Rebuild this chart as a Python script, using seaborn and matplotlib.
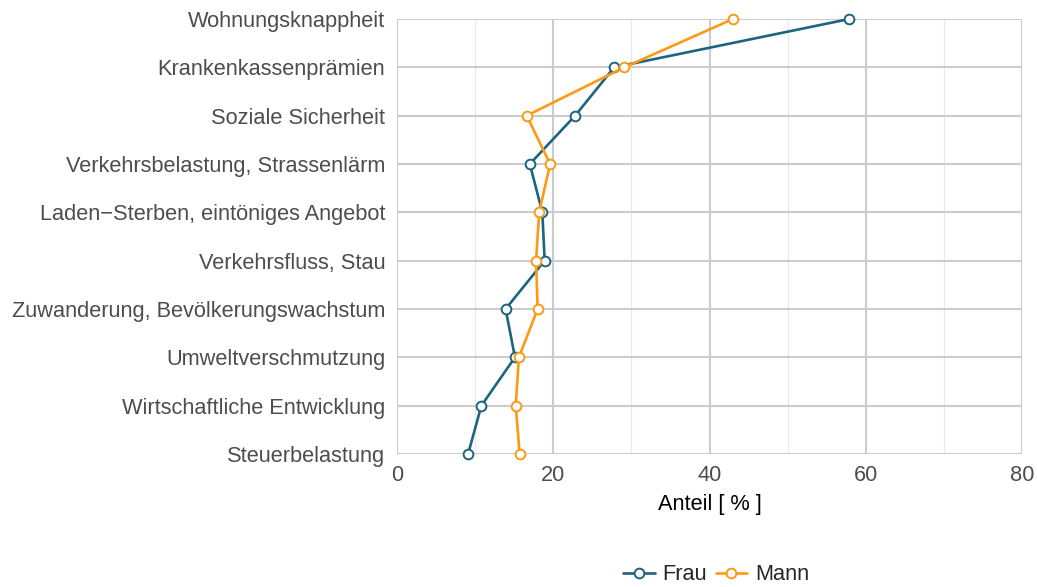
import matplotlib
matplotlib.use("Agg")
import matplotlib.pyplot as plt
import seaborn as sns
import pandas as pd
import numpy as np
from matplotlib.lines import Line2D

categories = [
    "Wohnungsknappheit",
    "Krankenkassenprämien",
    "Soziale Sicherheit",
    "Verkehrsbelastung, Strassenlärm",
    "Laden\u2212Sterben, eintöniges Angebot",
    "Verkehrsfluss, Stau",
    "Zuwanderung, Bevölkerungswachstum",
    "Umweltverschmutzung",
    "Wirtschaftliche Entwicklung",
    "Steuerbelastung",
]
frau = [57.9, 27.8, 22.8, 17.0, 18.6, 18.9, 13.9, 15.1, 10.8, 9.1]
mann = [43.0, 29.1, 16.6, 19.6, 18.2, 17.8, 18.0, 15.6, 15.2, 15.7]
groups = ["Frau", "Mann"]
colors = {"Frau": "#1b6580", "Mann": "#ff9914"}

sns.set_theme(style="white")
plt.rcParams["font.family"] = ["Liberation Sans", "DejaVu Sans"]

FS = 15.7
LW = 1.9
MS = 7
MEW = 1.4

rows = []
for i, c in enumerate(categories):
    rows.append({"cat": c, "pos": i, "Anteil": frau[i], "Geschlecht": "Frau"})
    rows.append({"cat": c, "pos": i, "Anteil": mann[i], "Geschlecht": "Mann"})
df = pd.DataFrame(rows)

fig = plt.figure(figsize=(10.37, 5.87), dpi=100)
ax = fig.add_axes([397/1037, 1 - 454/587, (1022-397)/1037, (454-19)/587])

sns.lineplot(data=df, x="Anteil", y="pos", hue="Geschlecht", palette=colors,
             sort=False, orient="y", estimator=None, ax=ax, legend=False,
             linewidth=LW, marker="o", markersize=MS,
             markerfacecolor="white", markeredgewidth=MEW, zorder=3)
for ln in ax.lines:
    ln.set_clip_on(False)
    ln.set_markeredgecolor(ln.get_color())

ax.set_xlim(0, 80)
ax.set_ylim(len(categories) - 1, 0)
ax.set_xticks([0, 20, 40, 60, 80])
ax.set_xticks([10, 30, 50, 70], minor=True)
ax.set_yticks(range(len(categories)))
ax.set_yticklabels(categories)
ax.grid(True, which="major", color="#cccccc", linewidth=1.5)
ax.grid(True, which="minor", axis="x", color="#e8e8e8", linewidth=0.9)
ax.set_axisbelow(True)
for s in ax.spines.values():
    s.set_visible(False)
ax.tick_params(axis="both", which="both", length=0, labelsize=FS,
               labelcolor="#4d4d4d")
ax.tick_params(axis="y", pad=8.5)
ax.tick_params(axis="x", pad=8)
ax.set_ylabel("")
ax.set_xlabel("Anteil [ % ]", fontsize=FS, color="black", labelpad=6)

handles = [Line2D([], [], color=colors[g], linewidth=LW, marker="o",
                  markersize=MS, markerfacecolor="white",
                  markeredgecolor=colors[g], markeredgewidth=MEW)
           for g in groups]
fig.legend(handles, groups, loc="center", bbox_to_anchor=(716/1037, 1 - 575/587),
           ncol=2, frameon=False, fontsize=FS, handlelength=1.45,
           handletextpad=0.35, columnspacing=0.4, borderaxespad=0)

fig.savefig("out.png", dpi=100)
